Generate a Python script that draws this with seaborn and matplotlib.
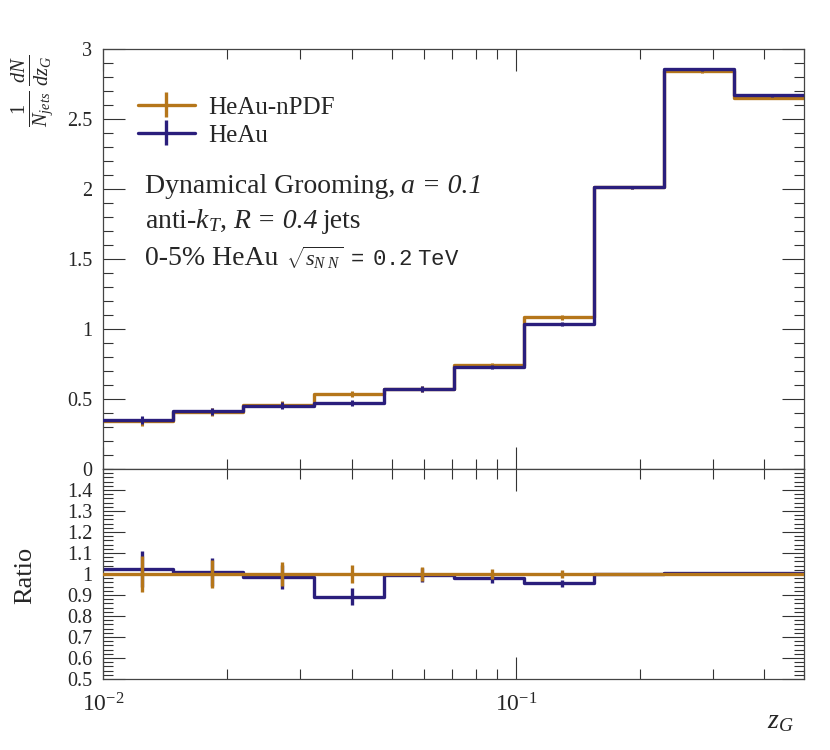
import numpy as np
import pandas as pd
import matplotlib
matplotlib.use("Agg")
import matplotlib.pyplot as plt
import matplotlib.ticker as mticker
import seaborn as sns

# =========================
# DATA
# =========================
BIN_EDGES = [0.01, 0.01479, 0.02187, 0.03235, 0.04785, 0.07071,
             0.1046, 0.1547, 0.2287, 0.3383, 0.5]

NPDF_VALS = [0.340, 0.407, 0.458, 0.536, 0.572, 0.743, 1.083, 2.012, 2.840, 2.650]
NPDF_ERR = [0.030, 0.027, 0.026, 0.024, 0.020, 0.016, 0.018, 0.010, 0.010, 0.010]
HEAU_VALS = [0.348, 0.412, 0.452, 0.474, 0.571, 0.726, 1.036, 2.012, 2.855, 2.669]
HEAU_ERR = [0.030, 0.027, 0.026, 0.022, 0.020, 0.015, 0.017, 0.010, 0.010, 0.010]

RATIO_NPDF = [1.0, 1.0, 1.0, 1.0, 1.0, 1.0, 1.0, 1.0, 1.0, 1.0]
RATIO_NPDF_ERR = [0.087, 0.067, 0.058, 0.045, 0.035, 0.022, 0.017, 0.006, 0.004, 0.004]
RATIO_HEAU = [1.023, 1.011, 0.987, 0.891, 0.995, 0.979, 0.955, 1.0, 1.003, 1.007]
RATIO_HEAU_ERR = [0.087, 0.066, 0.058, 0.040, 0.035, 0.020, 0.017, 0.006, 0.004, 0.004]

TOP_YTICKS = [0, 0.5, 1, 1.5, 2, 2.5, 3]
TOP_YLABELS = ["0", "0.5", "1", "1.5", "2", "2.5", "3"]
BOT_YTICKS = [0.5, 0.6, 0.7, 0.8, 0.9, 1.0, 1.1, 1.2, 1.3, 1.4]
BOT_YLABELS = ["0.5", "0.6", "0.7", "0.8", "0.9", "1", "1.1", "1.2", "1.3", "1.4"]
XTICKS = [0.01, 0.1]
XLABELS = [r"$10^{-2}$", r"$10^{-1}$"]

SERIES = ["HeAu-nPDF", "HeAu"]
COLORS = {"HeAu-nPDF": "#B5761A", "HeAu": "#2A1E7C"}

# =========================
# STYLE
# =========================
sns.set_theme(style="ticks")
plt.rcParams["font.family"] = ["Liberation Serif", "DejaVu Serif"]
plt.rcParams["mathtext.fontset"] = "custom"
plt.rcParams["mathtext.rm"] = "Liberation Serif"
plt.rcParams["mathtext.it"] = "Liberation Serif:italic"
plt.rcParams["mathtext.bf"] = "Liberation Serif:bold"
plt.rcParams["mathtext.tt"] = "Liberation Mono"
plt.rcParams["axes.edgecolor"] = "#444444"
plt.rcParams["axes.linewidth"] = 0.9

LW = 2.4
TXT = 20


def step_df(vals):
    return pd.DataFrame({"x": BIN_EDGES, "y": np.append(vals, vals[-1])})


edges = np.array(BIN_EDGES)
centers = 0.5 * (edges[:-1] + edges[1:])

fig = plt.figure(figsize=(8.3, 7.5), dpi=100)
ax1 = fig.add_axes([0.1245, 0.3747, 0.8442, 0.56])
ax2 = fig.add_axes([0.1245, 0.0947, 0.8442, 0.28])

# =========================
# TOP PANEL
# =========================
top = {"HeAu-nPDF": (NPDF_VALS, NPDF_ERR, 2), "HeAu": (HEAU_VALS, HEAU_ERR, 3)}
for name in SERIES:
    vals, err, z = top[name]
    sns.lineplot(data=step_df(vals), x="x", y="y", ax=ax1, estimator=None,
                 drawstyle="steps-post", color=COLORS[name], lw=LW, zorder=z)
    ax1.errorbar(centers, vals, yerr=err, fmt="none", ecolor=COLORS[name],
                 elinewidth=2.2, capsize=0, zorder=z)

# legend proxies (line + vertical bar)
handles = []
for name in SERIES:
    h = ax1.errorbar([np.nan], [np.nan], yerr=[1], fmt="-", color=COLORS[name],
                     lw=LW, elinewidth=LW, label=name)
    handles.append(h)
ax1.legend(handles=handles, labels=SERIES, loc="upper left",
           bbox_to_anchor=(0.05, 0.888), frameon=False, fontsize=18,
           handlelength=2.25, handletextpad=0.55, labelspacing=0.22,
           borderpad=0, borderaxespad=0)

# annotation block: upright part, then italic part chained after it
t1 = ax1.text(0.06, 0.657, "Dynamical Grooming,", transform=ax1.transAxes,
              fontsize=TXT, va="baseline")
ax1.annotate("a = 0.1", xy=(1, 0), xycoords=t1, xytext=(4, 0),
             textcoords="offset points", fontsize=TXT,
             style="italic", va="bottom", ha="left")
t2 = ax1.text(0.06, 0.574, r"anti-$k_T$,", transform=ax1.transAxes,
              fontsize=TXT, va="baseline")
t2b = ax1.annotate("R = 0.4", xy=(1, 0), xycoords=t2, xytext=(4, 0),
                   textcoords="offset points", fontsize=TXT,
                   style="italic", va="bottom", ha="left")
ax1.annotate("jets", xy=(1, 0), xycoords=t2b, xytext=(4, 0),
             textcoords="offset points", fontsize=TXT,
             va="bottom", ha="left")
t3 = ax1.text(0.06, 0.486, "0-5% HeAu", transform=ax1.transAxes,
              fontsize=TXT, va="baseline")
ax1.annotate(r"$\sqrt{s_{N\ N}}\ \mathtt{=\ 0.2\ TeV}$", xy=(1, 0.2), xycoords=t3,
             xytext=(5, 0), textcoords="offset points", fontsize=16,
             va="baseline", ha="left")

ax1.set_xscale("log")
ax1.set_xlim(0.01, 0.5)
ax1.set_ylim(0, 3)
ax1.set_yticks(TOP_YTICKS)
ax1.set_yticklabels(TOP_YLABELS)
ax1.yaxis.set_minor_locator(mticker.MultipleLocator(0.1))
ax1.set_xticks(XTICKS)
ax1.set_xticklabels([])
ax1.xaxis.set_minor_locator(mticker.LogLocator(base=10, subs=np.arange(2, 10)))
ax1.xaxis.set_minor_formatter(mticker.NullFormatter())
ax1.set_xlabel("")
ax1.set_ylabel("")

# =========================
# RATIO PANEL
# =========================
bot = {"HeAu-nPDF": (RATIO_NPDF, RATIO_NPDF_ERR, 3), "HeAu": (RATIO_HEAU, RATIO_HEAU_ERR, 2)}
for name in SERIES:
    vals, err, z = bot[name]
    sns.lineplot(data=step_df(vals), x="x", y="y", ax=ax2, estimator=None,
                 drawstyle="steps-post", color=COLORS[name], lw=LW, zorder=z)
    ax2.errorbar(centers, vals, yerr=err, fmt="none", ecolor=COLORS[name],
                 elinewidth=2.4, capsize=0, zorder=z)

ax2.set_xscale("log")
ax2.set_xlim(0.01, 0.5)
ax2.set_ylim(0.5, 1.5)
ax2.set_yticks(BOT_YTICKS)
ax2.set_yticklabels(BOT_YLABELS)
ax2.yaxis.set_minor_locator(mticker.MultipleLocator(0.02))
ax2.set_xticks(XTICKS)
ax2.set_xticklabels(XLABELS)
ax2.xaxis.set_minor_locator(mticker.LogLocator(base=10, subs=np.arange(2, 10)))
ax2.xaxis.set_minor_formatter(mticker.NullFormatter())
ax2.set_xlabel("")
ax2.set_ylabel("")

for ax in (ax1, ax2):
    ax.tick_params(which="both", direction="in", top=True, right=True,
                   color="#333333", width=0.8)
    ax.tick_params(which="major", length=15.5)
    ax.tick_params(which="minor", length=7)
    ax.tick_params(axis="y", labelsize=14.5, pad=8)
    ax.tick_params(axis="x", labelsize=17, pad=10)

fig.text(0.040, 1 - 91 / 750, r"$\frac{1}{N_{jets}}\,\frac{dN}{dz_G}$", rotation=90,
         fontsize=21, ha="center", va="center")
fig.text(0.030, 1 - 575 / 750, "Ratio", rotation=90, fontsize=19,
         ha="center", va="center")
fig.text(0.94, 1 - 722 / 750, r"$z_G$", fontsize=20, ha="center", va="center")

fig.savefig("out.png", dpi=100)
